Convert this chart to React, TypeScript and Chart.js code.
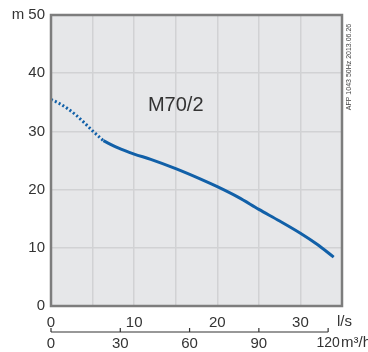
import React, { useEffect, useRef } from 'react';
import { Chart, registerables } from 'chart.js';
Chart.register(...registerables);

const flowDotted = [0, 1, 2, 3, 4, 5, 6.3];
const headDotted = [35.5, 34.8, 33.9, 32.8, 31.5, 30.1, 28.4];
const flowSolid = [6.3, 8, 10, 12, 15, 18, 20, 22.5, 25, 27.5, 30, 32, 34];
const headSolid = [28.4, 27.2, 26.1, 25.2, 23.6, 21.8, 20.5, 18.7, 16.6, 14.6, 12.5, 10.6, 8.4];
const lsGrid = [0, 5, 10, 15, 20, 25, 30, 35];
const lsTicks = [0, 10, 20, 30];
const m3hTicks = [0, 30, 60, 90, 120];
const headTicks = [0, 10, 20, 30, 40, 50];
const modelLabel = 'M70/2';
const modelPos = [15, 34.5];
const stampLabel = 'AFP 1043 50Hz 2013.06.26';
const lsUnit = 'l/s';
const m3hUnit = 'm³/h';
const headUnit = 'm';

const FONT = "'Liberation Sans', Arial, sans-serif";
const TEXT = '#333333';
const BLUE = '#1160a8';

const decor = {
  id: 'decor',
  beforeDraw(chart: any) {
    const { ctx, chartArea: a } = chart;
    ctx.save();
    ctx.fillStyle = '#e6e7e9';
    ctx.fillRect(a.left, a.top, a.right - a.left, a.bottom - a.top);
    ctx.restore();
  },
  afterDraw(chart: any) {
    const { ctx, chartArea: a, scales } = chart;
    const x = scales.x, y = scales.y, x2 = scales.x2;
    ctx.save();
    ctx.strokeStyle = '#7d7d7d';
    ctx.lineWidth = 2.5;
    ctx.strokeRect(a.left, a.top, a.right - a.left, a.bottom - a.top);

    const ly = x2.top + 4;
    ctx.strokeStyle = '#333';
    ctx.lineWidth = 1.2;
    ctx.beginPath();
    ctx.moveTo(x2.getPixelForValue(m3hTicks[0]), ly);
    ctx.lineTo(x2.getPixelForValue(m3hTicks[m3hTicks.length - 1]), ly);
    m3hTicks.forEach((t) => {
      const px = x2.getPixelForValue(t);
      ctx.moveTo(px, ly);
      ctx.lineTo(px, ly - 4);
    });
    ctx.stroke();

    ctx.fillStyle = TEXT;
    ctx.font = `15px ${FONT}`;
    ctx.textAlign = 'left';
    ctx.textBaseline = 'middle';
    ctx.fillText(lsUnit, a.right - 5, x.top + 16);
    ctx.fillText(m3hUnit, a.right - 1, x2.top + 15);

    ctx.font = `20px ${FONT}`;
    ctx.textAlign = 'center';
    ctx.fillText(modelLabel, x.getPixelForValue(modelPos[0]), y.getPixelForValue(modelPos[1]));

    ctx.font = `7px ${FONT}`;
    ctx.fillStyle = '#444';
    ctx.translate(a.right + 7, a.top + 52);
    ctx.rotate(-Math.PI / 2);
    ctx.textAlign = 'center';
    ctx.fillText(stampLabel, 0, 0);
    ctx.restore();
  },
};

export default function App() {
  const ref = useRef<HTMLCanvasElement>(null);
  useEffect(() => {
    if (!ref.current) return;
    const chart = new Chart(ref.current, {
      type: 'line',
      data: {
        datasets: [
          {
            data: flowDotted.map((q, i) => ({ x: q, y: headDotted[i] })),
            borderColor: BLUE,
            borderWidth: 3,
            borderDash: [2, 2.3],
            pointRadius: 0,
            cubicInterpolationMode: 'monotone',
            xAxisID: 'x',
            yAxisID: 'y',
          },
          {
            data: flowSolid.map((q, i) => ({ x: q, y: headSolid[i] })),
            borderColor: BLUE,
            borderWidth: 3,
            pointRadius: 0,
            cubicInterpolationMode: 'monotone',
            xAxisID: 'x',
            yAxisID: 'y',
          },
        ],
      },
      options: {
        animation: false,
        responsive: false,
        maintainAspectRatio: false,
        layout: { padding: { top: 15, right: 26, left: 0, bottom: 0 } },
        plugins: { legend: { display: false }, tooltip: { enabled: false } },
        scales: {
          x: {
            type: 'linear',
            position: 'bottom',
            weight: 1,
            min: 0,
            max: 35,
            grid: { color: '#d1d2d4', lineWidth: 1.5, drawTicks: false },
            border: { display: false },
            afterBuildTicks: (s: any) => { s.ticks = lsGrid.map((v) => ({ value: v })); },
            ticks: {
              padding: 8,
              maxRotation: 0,
              autoSkip: false,
              color: TEXT,
              font: { family: FONT, size: 15 },
              callback: (v: any) => (lsTicks.includes(Number(v)) ? String(v) : ''),
            },
            afterFit: (s: any) => { s.height = 22; },
          },
          x2: {
            type: 'linear',
            position: 'bottom',
            weight: 2,
            min: 0,
            max: 126,
            grid: { display: false, drawTicks: false },
            border: { display: false },
            afterBuildTicks: (s: any) => { s.ticks = m3hTicks.map((v) => ({ value: v })); },
            ticks: {
              padding: 7,
              maxRotation: 0,
              autoSkip: false,
              color: TEXT,
              font: (c: any) => ({ family: FONT, size: c.tick && c.tick.value === 120 ? 14 : 15 }),
              callback: (v: any) => String(v),
            },
            afterFit: (s: any) => { s.height = 24; },
          },
          y: {
            type: 'linear',
            min: 0,
            max: 50,
            grid: { color: '#d1d2d4', lineWidth: 1.5, drawTicks: false },
            border: { display: false },
            afterBuildTicks: (s: any) => { s.ticks = headTicks.map((v) => ({ value: v })); },
            ticks: {
              padding: 6,
              color: TEXT,
              font: { family: FONT, size: 15 },
              callback: (v: any) => {
                const n = Number(v);
                return n === 50 ? `${headUnit} ${n}` : String(n);
              },
            },
            afterFit: (s: any) => { s.width = 51; },
          },
        },
      },
      plugins: [decor],
    });
    return () => chart.destroy();
  }, []);
  return (
    <div style={{ position: 'fixed', left: 0, top: 0, width: 368, height: 352, background: '#fff' }}>
      <canvas ref={ref} width={368} height={352} style={{ width: 368, height: 352 }} />
    </div>
  );
}
